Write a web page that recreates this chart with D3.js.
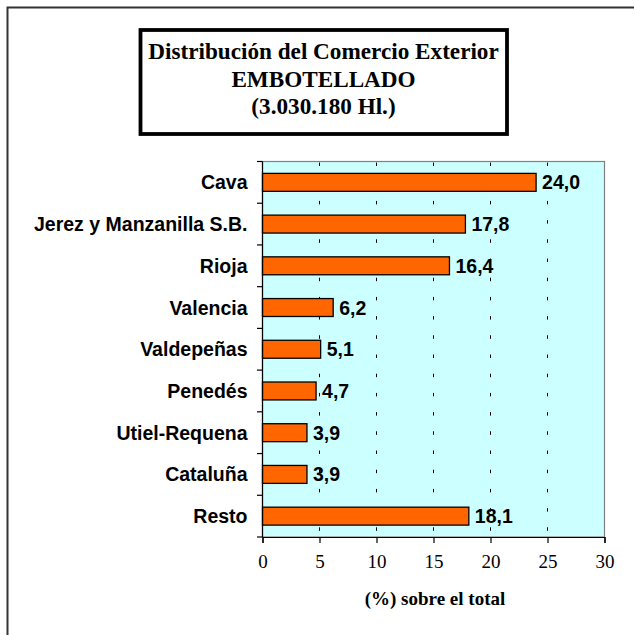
<!DOCTYPE html>
<html>
<head>
<meta charset="utf-8">
<script src="https://cdn.jsdelivr.net/npm/d3@7"></script>
<style>
  html, body { margin: 0; padding: 0; background: #fff; }
  svg { display: block; }
</style>
</head>
<body>
<svg id="chart" width="635" height="635"></svg>
<script>
const categories = ["Cava", "Jerez y Manzanilla S.B.", "Rioja", "Valencia", "Valdepeñas", "Penedés", "Utiel-Requena", "Cataluña", "Resto"];
const values = [24.0, 17.8, 16.4, 6.2, 5.1, 4.7, 3.9, 3.9, 18.1];
const valueLabels = ["24,0", "17,8", "16,4", "6,2", "5,1", "4,7", "3,9", "3,9", "18,1"];
const xTicks = [0, 5, 10, 15, 20, 25, 30];
const titleLines = ["Distribución del Comercio Exterior", "EMBOTELLADO", "(3.030.180 Hl.)"];
const xAxisTitle = "(%) sobre el total";

(function () {
const svg = d3.select("#chart");

// outer frame (left and top edges visible)
svg.append("path")
  .attr("d", "M7.5,635 L7.5,7.5 L634,7.5")
  .attr("fill", "none").attr("stroke", "#333").attr("stroke-width", 2);

// title box
svg.append("rect")
  .attr("x", 140.5).attr("y", 30).attr("width", 366.5).attr("height", 104)
  .attr("fill", "#fff").attr("stroke", "#000").attr("stroke-width", 3.8);
const titleY = [59, 86.5, 114];
svg.selectAll("text.title").data(titleLines).join("text")
  .attr("class", "title")
  .attr("x", 323.5).attr("y", (d, i) => titleY[i])
  .attr("text-anchor", "middle")
  .attr("font-family", "'Liberation Serif', 'Times New Roman', serif")
  .attr("font-weight", "bold").attr("font-size", 23.2)
  .text(d => d);

// plot area
const pL = 262.5, pR = 604.5, pT = 161.5, pB = 537;
const x = d3.scaleLinear().domain([0, 30]).range([pL, pR]);
const y = d3.scaleBand().domain(categories).range([pT, pB]).padding(0);

svg.append("rect")
  .attr("x", pL).attr("y", pT).attr("width", pR - pL).attr("height", pB - pT)
  .attr("fill", "#CCFFFF").attr("stroke", "#808080").attr("stroke-width", 1.2);

// grid
svg.selectAll("line.grid").data(xTicks.filter(t => t > 0 && t < 30)).join("line")
  .attr("class", "grid")
  .attr("x1", d => x(d)).attr("x2", d => x(d))
  .attr("y1", pT + 1).attr("y2", pB)
  .attr("stroke", "#000").attr("stroke-width", 1)
  .attr("stroke-dasharray", "3.5,15.7");

// bars
const barH = y.bandwidth() * 0.43;
svg.selectAll("rect.bar").data(categories).join("rect")
  .attr("class", "bar")
  .attr("x", x(0))
  .attr("y", (d) => y(d) + (y.bandwidth() - barH) / 2)
  .attr("width", (d, i) => x(values[i]) - x(0))
  .attr("height", barH)
  .attr("fill", "#FF6600").attr("stroke", "#000").attr("stroke-width", 1.3);

// value labels
svg.selectAll("text.val").data(categories).join("text")
  .attr("class", "val")
  .attr("x", (d, i) => x(values[i]) + 6)
  .attr("y", d => y(d) + y.bandwidth() / 2)
  .attr("dy", "0.36em")
  .attr("font-family", "'Liberation Sans', Arial, sans-serif")
  .attr("font-weight", "bold").attr("font-size", 19.5)
  .attr("fill", "#000")
  .text((d, i) => valueLabels[i]);

// left axis
const gy = svg.append("g");
gy.append("line").attr("x1", pL).attr("x2", pL).attr("y1", pT).attr("y2", pB)
  .attr("stroke", "#000").attr("stroke-width", 1.2);
const boundaries = categories.map(c => y(c)).concat([pB]);
gy.selectAll("line.tk").data(boundaries).join("line")
  .attr("class", "tk")
  .attr("x1", pL - 5.5).attr("x2", pL).attr("y1", d => d).attr("y2", d => d)
  .attr("stroke", "#000").attr("stroke-width", 1.2);
gy.selectAll("text").data(categories).join("text")
  .attr("x", 247.5)
  .attr("y", d => y(d) + y.bandwidth() / 2)
  .attr("dy", "0.36em")
  .attr("text-anchor", "end")
  .attr("font-family", "'Liberation Sans', Arial, sans-serif")
  .attr("font-weight", "bold").attr("font-size", 19.5)
  .text(d => d);

// bottom axis
const xAxis = d3.axisBottom(x).tickValues(xTicks).tickSize(6).tickPadding(12).tickFormat(d3.format("d"));
const gx = svg.append("g").attr("transform", `translate(0,${pB})`).call(xAxis);
gx.select(".domain").attr("stroke", "#000").attr("stroke-width", 1.2);
gx.selectAll(".tick line").attr("stroke", "#000").attr("stroke-width", 1.2);
gx.selectAll(".tick text")
  .attr("font-family", "'Liberation Serif', 'Times New Roman', serif")
  .attr("font-size", 19).attr("fill", "#000");

svg.append("text")
  .attr("x", 435).attr("y", 605)
  .attr("text-anchor", "middle")
  .attr("font-family", "'Liberation Serif', 'Times New Roman', serif")
  .attr("font-weight", "bold").attr("font-size", 19)
  .text(xAxisTitle);
})();
</script>
</body>
</html>
